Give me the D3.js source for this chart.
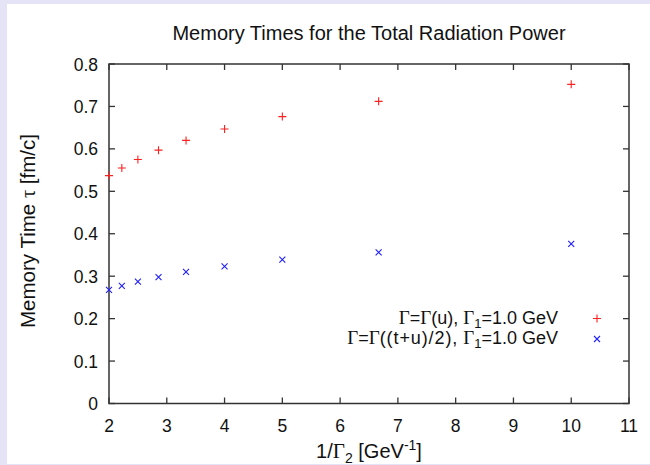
<!DOCTYPE html>
<html><head><meta charset="utf-8">
<script src="https://cdn.jsdelivr.net/npm/d3@7"></script>
<style>
html,body{margin:0;padding:0;background:#e4e4f6;}
svg{display:block;}
</style></head>
<body>
<svg id="chart" width="650" height="465"></svg>
<script>
const invGamma2 = [2, 2.2222, 2.5, 2.8571, 3.3333, 4, 5, 6.6667, 10];
const tauU = [0.537, 0.555, 0.575, 0.597, 0.620, 0.647, 0.676, 0.712, 0.752];
const tauTU = [0.268, 0.277, 0.287, 0.298, 0.310, 0.323, 0.339, 0.356, 0.376];
const xTicks = [2, 3, 4, 5, 6, 7, 8, 9, 10, 11];
const yTicks = [0, 0.1, 0.2, 0.3, 0.4, 0.5, 0.6, 0.7, 0.8];

(function () {
const svg = d3.select("#chart");
svg.append("rect").attr("x", 7).attr("y", 4).attr("width", 643).attr("height", 460).attr("fill", "#fff");

const pL = 109, pR = 629, pT = 64, pB = 403.5;
const x = d3.scaleLinear().domain([2, 11]).range([pL, pR]);
const y = d3.scaleLinear().domain([0, 0.8]).range([pB, pT]);
const font = "'Liberation Sans', Arial, Helvetica, sans-serif";
const serif = "'Liberation Serif', 'Times New Roman', serif";
const axisColor = "#333";
const tickFs = 17.5, labFs = 20, legFs = 18;

// ticks (mirrored, inward)
const tl = 6;
const g = svg.append("g").attr("stroke", axisColor).attr("stroke-width", 1.3);
xTicks.forEach(t => {
  g.append("line").attr("x1", x(t)).attr("x2", x(t)).attr("y1", pB).attr("y2", pB - tl);
  g.append("line").attr("x1", x(t)).attr("x2", x(t)).attr("y1", pT).attr("y2", pT + tl);
});
yTicks.forEach(t => {
  g.append("line").attr("x1", pL).attr("x2", pL + tl).attr("y1", y(t)).attr("y2", y(t));
  g.append("line").attr("x1", pR).attr("x2", pR - tl).attr("y1", y(t)).attr("y2", y(t));
});
svg.append("rect").attr("x", pL).attr("y", pT).attr("width", pR - pL).attr("height", pB - pT)
  .attr("fill", "none").attr("stroke", axisColor).attr("stroke-width", 1.5);

// tick labels
svg.append("g").selectAll("text").data(xTicks).join("text")
  .attr("x", d => x(d)).attr("y", pB + 28).attr("text-anchor", "middle")
  .attr("font-family", font).attr("font-size", tickFs).attr("fill", "#111").text(d => d);
svg.append("g").selectAll("text").data(yTicks).join("text")
  .attr("x", pL - 11).attr("y", d => y(d) + 6.5).attr("text-anchor", "end")
  .attr("font-family", font).attr("font-size", tickFs).attr("fill", "#111")
  .text(d => d === 0 ? "0" : d3.format(".1f")(d));

// title
svg.append("text").attr("x", 369).attr("y", 40).attr("text-anchor", "middle")
  .attr("font-family", font).attr("font-size", labFs).attr("fill", "#111")
  .text("Memory Times for the Total Radiation Power");

// x label
const xl = svg.append("text").attr("x", 369).attr("y", 458).attr("text-anchor", "middle")
  .attr("font-family", font).attr("font-size", labFs).attr("fill", "#111");
xl.append("tspan").text("1/");
xl.append("tspan").attr("font-family", serif).attr("font-size", labFs + 1).text("Γ");
xl.append("tspan").attr("font-size", 14).attr("dy", 5).text("2");
xl.append("tspan").attr("dy", -5).text(" [GeV");
xl.append("tspan").attr("font-size", 14).attr("dy", -8).text("-1");
xl.append("tspan").attr("dy", 8).text("]");

// y label
const yl = svg.append("text").attr("transform", "translate(35,231) rotate(-90)").attr("text-anchor", "middle")
  .attr("font-family", font).attr("font-size", 20.5).attr("fill", "#111");
yl.append("tspan").text("Memory Time ");
yl.append("tspan").attr("font-family", serif).text("τ");
yl.append("tspan").text(" [fm/c]");

// markers
const red = "#ff2020", blue = "#2020ff";
function plus(sel, cx, cy, s, c) {
  sel.append("path").attr("d", `M${cx - s},${cy}H${cx + s}M${cx},${cy - s}V${cy + s}`)
    .attr("stroke", c).attr("stroke-width", 1.1).attr("fill", "none");
}
function cross(sel, cx, cy, s, c) {
  sel.append("path").attr("d", `M${cx - s},${cy - s}L${cx + s},${cy + s}M${cx - s},${cy + s}L${cx + s},${cy - s}`)
    .attr("stroke", c).attr("stroke-width", 1.1).attr("fill", "none");
}
const pts = svg.append("g");
invGamma2.forEach((v, i) => {
  plus(pts, x(v), y(tauU[i]), 4, red);
  cross(pts, x(v), y(tauTU[i]), 3, blue);
});

// legend
function legendLine(yy, parts) {
  const t = svg.append("text").attr("x", 558).attr("y", yy).attr("text-anchor", "end")
    .attr("font-family", font).attr("font-size", legFs).attr("fill", "#111");
  parts.forEach(p => {
    const ts = t.append("tspan").text(p.t);
    if (p.serif) ts.attr("font-family", serif).attr("font-size", legFs + 1);
    if (p.sub) ts.attr("font-size", 13).attr("dy", 4);
    if (p.up) ts.attr("dy", -4);
    if (p.ls) ts.attr("letter-spacing", p.ls);
  });
}
legendLine(323.5, [{t: "Γ", serif: 1}, {t: "="}, {t: "Γ", serif: 1}, {t: "(u), "}, {t: "Γ", serif: 1}, {t: "1", sub: 1}, {t: "=1.0 GeV", up: 1}]);
legendLine(343.5, [{t: "Γ", serif: 1}, {t: "="}, {t: "Γ", serif: 1}, {t: "((t+u)/2),", ls: 0.9}, {t: " "}, {t: "Γ", serif: 1}, {t: "1", sub: 1}, {t: "=1.0 GeV", up: 1}]);
plus(svg, 597, 318.5, 4, red);
cross(svg, 597, 339, 3, blue);
})();
</script>
</body></html>
